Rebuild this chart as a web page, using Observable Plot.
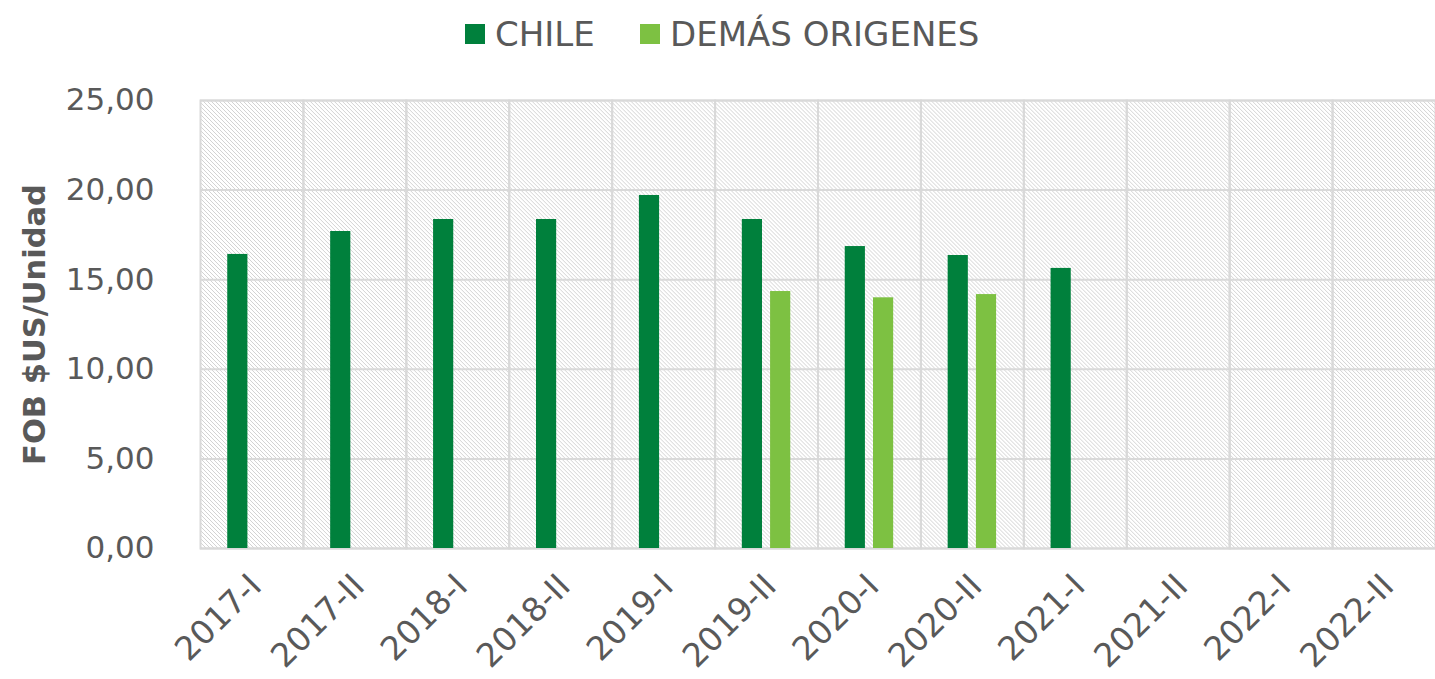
<!DOCTYPE html>
<html>
<head>
<meta charset="utf-8">
<script src="https://cdn.jsdelivr.net/npm/d3@7"></script>
<script src="https://cdn.jsdelivr.net/npm/@observablehq/plot@0.6"></script>
<style>
  body { margin: 0; background: #fff; font-family: "DejaVu Sans", sans-serif; }
  #legend { position: relative; height: 70px; color: #595959; font-size: 34px; }
  .item { position: absolute; top: 14px; display: flex; align-items: center; white-space: nowrap; line-height: 40px; }
  .sw { width: 20px; height: 20px; margin-right: 10px; }
</style>
</head>
<body>
<svg width="0" height="0" style="position:absolute">
  <defs>
    <pattern id="hatch" width="4" height="4" patternUnits="userSpaceOnUse">
      <path d="M-1,-1 L5,5 M-1,3 L1,5 M3,-1 L5,1" stroke="#d3d3d3" stroke-width="1"/>
    </pattern>
  </defs>
</svg>
<div id="legend"></div>
<div id="chart"></div>
<script>
const categories = ["2017-I","2017-II","2018-I","2018-II","2019-I","2019-II","2020-I","2020-II","2021-I","2021-II","2022-I","2022-II"];
const series = ["CHILE","DEMÁS ORIGENES"];
const colors = ["#00803C","#7DC142"];
const chile = [16.41, 17.69, 18.36, 18.36, 19.70, 18.36, 16.85, 16.35, 15.63, null, null, null];
const demas = [null, null, null, null, null, 14.34, 13.99, 14.17, null, null, null, null];
const yTicks = [0, 5, 10, 15, 20, 25];

const data = categories.flatMap((c, i) => [
  {cat: c, serie: series[0], value: chile[i]},
  {cat: c, serie: series[1], value: demas[i]}
]).filter(d => d.value != null);

const legend = document.getElementById("legend");
const legendLeft = [465, 640];
series.forEach((s, i) => {
  const it = document.createElement("div");
  it.className = "item";
  it.style.left = legendLeft[i] + "px";
  it.innerHTML = `<span class="sw" style="background:${colors[i]}"></span><span>${s}</span>`;
  legend.appendChild(it);
});

const fmt = d => d.toFixed(2).replace(".", ",");

const plot = Plot.plot({
  width: 1435,
  height: 609,
  marginLeft: 200,
  marginRight: 0,
  marginTop: 30,
  marginBottom: 131,
  style: {fontFamily: "'DejaVu Sans', sans-serif", color: "#595959", background: "transparent", overflow: "visible"},
  fx: {domain: categories, padding: 0, round: false, label: null},
  x: {domain: series, paddingInner: 0.286, paddingOuter: 0.964, round: false, axis: null},
  y: {domain: [0, 25], label: null},
  color: {domain: series, range: colors},
  marks: [
    Plot.rect(categories, {fx: d => d, fill: "url(#hatch)"}),
    Plot.gridY(yTicks, {stroke: "#d9d9d9", strokeOpacity: 1, strokeWidth: 2}),
    Plot.frame({stroke: "#d9d9d9", strokeWidth: 2}),
    Plot.barY(data, {fx: "cat", x: "serie", y: "value", fill: "serie"}),
    Plot.axisY(yTicks, {tickSize: 0, tickPadding: 46, tickFormat: fmt, fontSize: 31, fill: "#595959", label: null}),
    Plot.axisFx({anchor: "bottom", tickSize: 0, tickRotate: -45, fontSize: 33, fill: "#595959", tickPadding: 32, dx: 4, label: null}),
    Plot.text([{cat: categories[0], t: "FOB $US/Unidad"}], {fx: "cat", text: "t", frameAnchor: "left", textAnchor: "middle", dx: -165, rotate: -90, fontSize: 30.5, fontWeight: "bold", fill: "#595959"})
  ]
});
document.getElementById("chart").appendChild(plot);
</script>
</body>
</html>
